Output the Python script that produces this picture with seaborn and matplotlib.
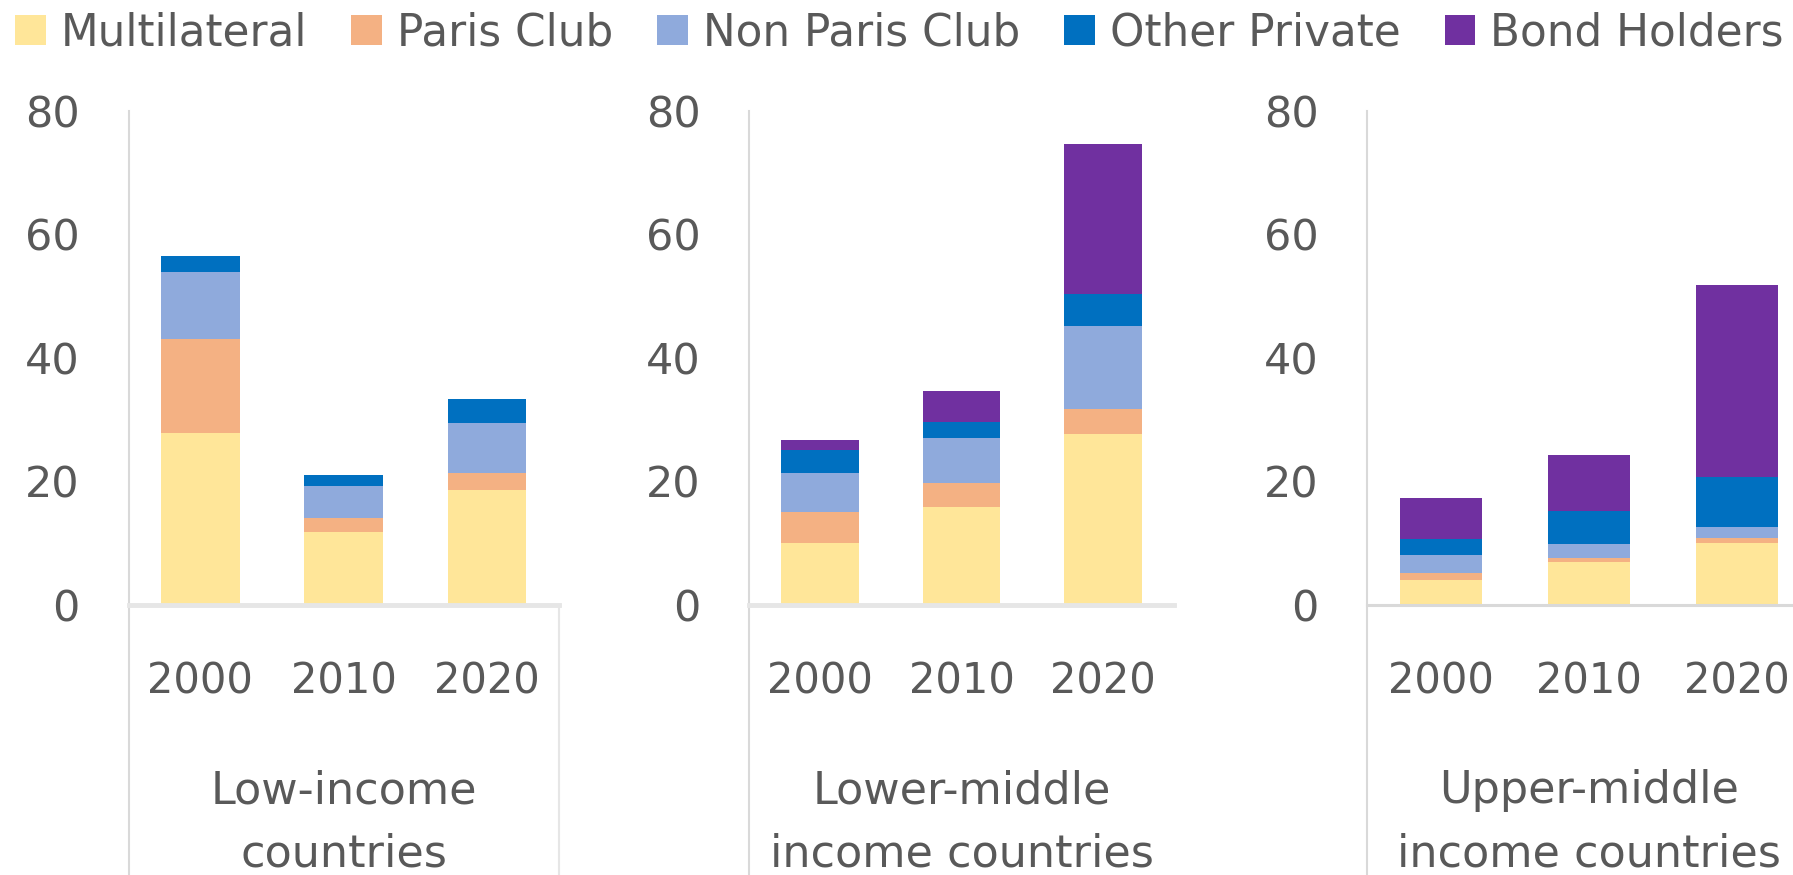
import pandas as pd
import seaborn as sns
import matplotlib.pyplot as plt
from matplotlib.patches import Patch
from matplotlib.transforms import blended_transform_factory

# data (stack segments, per income group)
years = ['2000', '2010', '2020']
groups = ['Low-income\ncountries', 'Lower-middle\nincome countries', 'Upper-middle\nincome countries']
series = ['Multilateral', 'Paris Club', 'Non Paris Club', 'Other Private', 'Bond Holders']
colors = ['#FFE699', '#F4B183', '#8FAADC', '#0070C0', '#7030A0']

multilateral = [[27.8, 11.8, 18.6], [10.0, 15.8, 27.7], [4.1, 7.0, 10.1]]
paris_club = [[15.3, 2.3, 2.7], [5.0, 4.0, 4.1], [1.1, 0.6, 0.8]]
non_paris_club = [[10.8, 5.1, 8.1], [6.4, 7.2, 13.4], [2.9, 2.2, 1.8]]
other_private = [[2.6, 1.8, 3.9], [3.7, 2.6, 5.2], [2.6, 5.4, 8.0]]
bond_holders = [[0.0, 0.0, 0.0], [1.6, 5.1, 24.3], [6.6, 9.1, 31.2]]

sns.set_style('white')
plt.rcParams['font.family'] = ['DejaVu Sans']
text_col = '#595959'
grid_col = '#d9d9d9'

W, H = 1793, 875
fig = plt.figure(figsize=(W / 100, H / 100), dpi=100)

# panel placement in pixels: left edge, width, bar width
panels = [(128.6, 430, 0.55), (749, 425, 0.55), (1367, 444, 0.56)]
zero_y, top_y = 605, 111

for i, (left, width, bw) in enumerate(panels):
    ax = fig.add_axes([left / W, (H - zero_y) / H, width / W, (zero_y - top_y) / H])

    df = pd.DataFrame({'year': years,
                       'Multilateral': multilateral[i],
                       'Paris Club': paris_club[i],
                       'Non Paris Club': non_paris_club[i],
                       'Other Private': other_private[i],
                       'Bond Holders': bond_holders[i]})
    cum = df[series].cumsum(axis=1)
    cum['year'] = years

    # draw stacked bars from the tallest cumulative total down
    for s, c in reversed(list(zip(series, colors))):
        sns.barplot(data=cum, x='year', y=s, color=c, saturation=1, width=bw,
                    errorbar=None, linewidth=0, ax=ax)

    ax.set_xlim(-0.5, 2.5)
    ax.set_ylim(0, 80)
    ax.set_yticks([0, 20, 40, 60, 80])
    ax.set_xlabel('')
    ax.set_ylabel('')
    ax.tick_params(axis='y', length=0, pad=35, labelsize=31, labelcolor=text_col)
    ax.tick_params(axis='x', length=0, pad=40, labelsize=30, labelcolor=text_col)

    for sp in ['top', 'right']:
        ax.spines[sp].set_visible(False)
    ax.spines['left'].set_color(grid_col)
    ax.spines['left'].set_linewidth(1.5)
    ax.spines['bottom'].set_color('#e6e6e6' if i < 2 else grid_col)
    ax.spines['bottom'].set_linewidth(3.5 if i < 2 else 2.2)

    # category box lines below the axis
    ax.plot([0, 0], [0, -0.7], transform=ax.transAxes, clip_on=False,
            color=grid_col, lw=1.5)
    if i == 0:
        ax.plot([1, 1], [0, -0.7], transform=ax.transAxes, clip_on=False,
                color='#e6e6e6', lw=1.5)

    trans = blended_transform_factory(ax.transData, ax.transAxes)
    ax.text(1, -0.44, groups[i], transform=trans, ha='center', va='center',
            fontsize=32, color=text_col, linespacing=1.6)

handles = [Patch(facecolor=c, edgecolor='none') for c in colors]
fig.legend(handles, series, loc='center left', bbox_to_anchor=(15 / W, 1 - 33 / H),
           ncol=5, frameon=False, fontsize=31.5, labelcolor=text_col,
           handlelength=0.7, handleheight=0.67, handletextpad=0.35,
           columnspacing=1.0, borderpad=0, borderaxespad=0)

fig.savefig('out.png', dpi=100)
